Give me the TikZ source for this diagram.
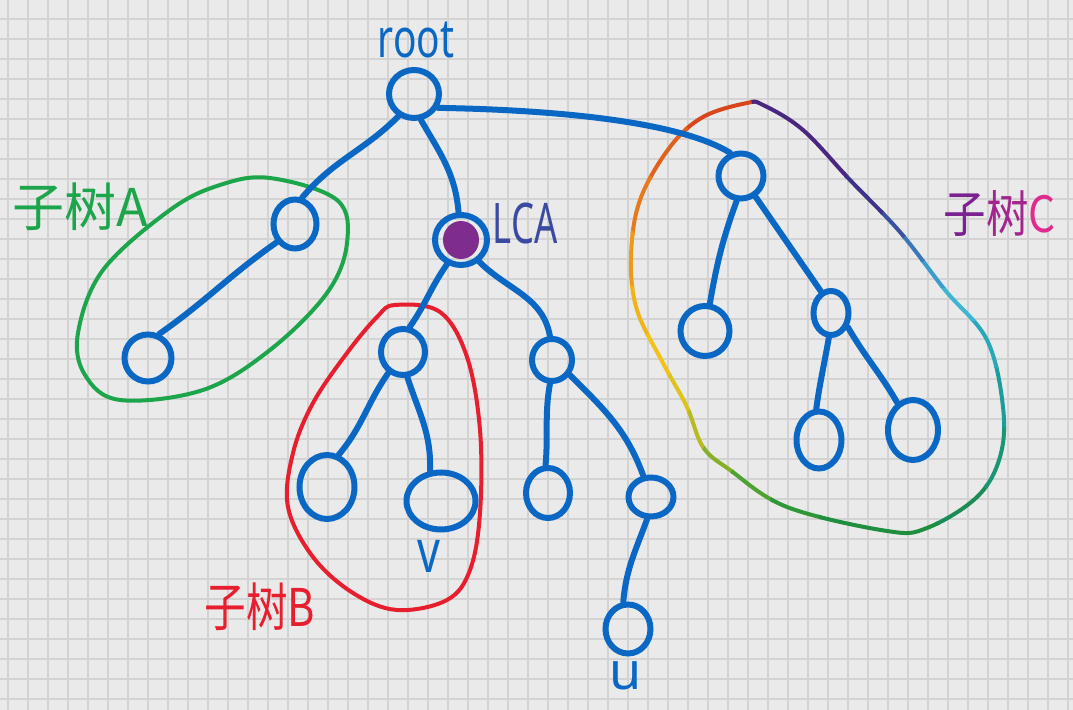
\documentclass[tikz,border=0pt]{standalone}
\usepackage{fontspec}
\setmainfont{Noto Sans}
\newfontfamily\cjk{Noto Sans CJK SC}
\usetikzlibrary{shapes.geometric}
\definecolor{bg}{HTML}{EAEAEA}
\definecolor{gridc}{HTML}{D3D3D3}
\definecolor{tb}{HTML}{0A68C4}
\definecolor{gA}{HTML}{1DA54B}
\definecolor{rB}{HTML}{E61E2D}
\definecolor{lcafill}{HTML}{7E2D8E}
\definecolor{lcatext}{HTML}{3A4AA0}
\definecolor{pC1}{HTML}{7B2290}
\definecolor{pC2}{HTML}{A3268F}
\definecolor{pC3}{HTML}{E02A8E}
\definecolor{rb1}{HTML}{D8461C}
\definecolor{rb2}{HTML}{E0601E}
\definecolor{rb3}{HTML}{E57A1E}
\definecolor{rb4}{HTML}{EC9A1C}
\definecolor{rb5}{HTML}{F0B41A}
\definecolor{rb6}{HTML}{F2C21A}
\definecolor{rb7}{HTML}{E0C21E}
\definecolor{rb8}{HTML}{B8BA22}
\definecolor{rb9}{HTML}{86B02A}
\definecolor{rb10}{HTML}{4EA232}
\definecolor{rb11}{HTML}{2E9838}
\definecolor{rb12}{HTML}{1F8E3E}
\definecolor{rb13}{HTML}{1C8C56}
\definecolor{rb14}{HTML}{1B9478}
\definecolor{rb15}{HTML}{1C9C9A}
\definecolor{rb16}{HTML}{28A8B8}
\definecolor{rb17}{HTML}{3CB6D2}
\definecolor{rb18}{HTML}{3A9CCB}
\definecolor{rb19}{HTML}{3A78BA}
\definecolor{rb20}{HTML}{3A50A0}
\definecolor{rb21}{HTML}{3C3288}
\definecolor{rb22}{HTML}{4A2680}
\tikzset{
  gridline/.style={draw=gridc, line width=1pt},
  tn/.style 2 args={ellipse, draw=tb, line width=3pt, inner sep=0pt,
    minimum width=#1pt, minimum height=#2pt},
  tedge/.style={draw=tb, line width=3pt, line cap=round},
  encl/.style={line width=2pt, line cap=round, line join=round},
  lbl/.style={inner sep=0pt, anchor=center}
}
\begin{document}
\begin{tikzpicture}[x=0.5pt,y=-0.5pt]
\useasboundingbox (0,0) rectangle (1073,710);
\fill[bg] (0,0) rectangle (1073,710);
\foreach \xx in {8,28,...,1068}{\draw[gridline] (\xx,0) -- (\xx,710);}
\foreach \yy in {19,39,...,699}{\draw[gridline] (0,\yy) -- (1073,\yy);}

% enclosures
\draw[encl, gA] plot[smooth cycle, tension=0.6] coordinates {(220,185) (270,178) (337,200) (347,243) (327,293) (270,350) (203,390) (120,400) (85,375) (78,333) (103,270) (170,210)};
\draw[encl, rB] plot[smooth cycle, tension=0.6] coordinates {(395,305) (440,312) (467,357) (480,430) (480,513) (470,570) (447,600) (397,610) (353,593) (313,557) (288,507) (293,453) (313,403) (347,353) (377,317)};
\foreach \a/\b/\c in {107/125/rb1,125/140/rb2,140/155/rb3,155/170/rb4,170/185/rb5,185/200/rb6,200/215/rb7,215/228/rb8,228/240/rb9,240/255/rb10,255/270/rb11,270/300/rb12,300/315/rb13,315/330/rb14,330/345/rb15,345/360/rb16,360/375/rb17,375/390/rb18,390/405/rb19,405/420/rb20,420/440/rb21,440/467/rb22}{
  \begin{scope}
    \clip (820,320) -- +(\a-0.4:500pt) arc[start angle=\a-0.4, end angle=\b+0.4, radius=500pt] -- cycle;
    \draw[encl, draw=\c] plot[smooth cycle, tension=0.6] coordinates {(747,103) (763,105) (803,130) (850,180) (900,232) (945,290) (987,340) (1003,407) (1000,457) (977,497) (927,528) (887,531) (787,507) (730,470) (703,447) (687,407) (663,363) (637,310) (631,257) (640,200) (670,147) (703,117)};
  \end{scope}
}

% tree nodes
\node[tn={25}{24}] (root) at (414,94) {};
\node[tn={21.5}{24.5}] (A1) at (295,224) {};
\node[tn={23.5}{23.5}] (A2) at (148,358) {};
\node[tn={26}{25}] (LCA) at (461,240) {};
\fill[lcafill] (461,240) ellipse[x radius=9pt, y radius=9.5pt];
\node[tn={22}{23}] (B1) at (403,352) {};
\node[tn={27.5}{32}] (B2) at (327,487) {};
\node[tn={34.5}{28.5}] (v) at (441,501) {};
\node[tn={20}{21}] (Cm) at (552,360) {};
\node[tn={22}{25}] (N1) at (548,493) {};
\node[tn={22.5}{19.5}] (N2) at (651,497) {};
\node[tn={22.5}{24.5}] (u) at (628,629) {};
\node[tn={22.5}{22.5}] (C1) at (741,176) {};
\node[tn={24.5}{25}] (C2) at (705,331) {};
\node[tn={17.5}{22}] (C3) at (831,313) {};
\node[tn={22.5}{28.5}] (C4) at (819,440) {};
\node[tn={25}{30}] (C5) at (913,430) {};

% edges
\draw[tedge] (root.-125) to[out=-135,in=50] (A1.75);
\draw[tedge] (root.-75) to[out=-60,in=95] (LCA.95);
\draw[tedge] (root.-30) .. controls (560,110) and (680,122) .. (C1.115);
\draw[tedge] (A1.-135) to[out=-145,in=35] (A2.65);
\draw[tedge] (LCA.-120) to[out=-125,in=55] (B1.75);
\draw[tedge] (LCA.-50) to[out=-45,in=100] (Cm.95);
\draw[tedge] (B1.-125) to[out=-125,in=50] (B2.70);
\draw[tedge] (B1.-80) to[out=-72,in=88] (v.110);
\draw[tedge] (Cm.-95) to[out=-100,in=85] (N1.95);
\draw[tedge] (Cm.-40) to[out=-45,in=110] (N2.110);
\draw[tedge] (N2.-100) to[out=-110,in=85] (u.100);
\draw[tedge] (C1.-100) to[out=-110,in=80] (C2.80);
\draw[tedge] (C1.-55) -- (C3.115);
\draw[tedge] (C3.-95) to[out=-100,in=82] (C4.95);
\draw[tedge] (C3.-40) to[out=-60,in=120] (C5.120);

% labels
\node[lbl, text=tb] (troot) at (416,40) {\scalebox{0.72}[1]{\fontsize{27}{27}\selectfont root}};
\node[lbl, text=lcatext] (tlca) at (525,224) {\scalebox{0.65}[1]{\fontsize{28}{28}\selectfont LCA}};
\node[lbl, text=tb] (tv) at (429,556) {\scalebox{0.75}[1]{\fontsize{30}{30}\selectfont v}};
\node[lbl, text=tb] (tu) at (626,676) {\fontsize{26}{26}\selectfont u};
\node[lbl, text=gA] (tA) at (80,207) {\cjk\fontsize{26}{26}\selectfont 子树A};
\node[lbl, text=rB] (tB) at (260,607) {\scalebox{0.8}[1]{\cjk\fontsize{26}{26}\selectfont 子树B}};
\node[lbl] (tC) at (1000,214) {\scalebox{0.85}[1]{\cjk\fontsize{25}{25}\selectfont\textcolor{pC1}{子}\textcolor{pC2}{树}\textcolor{pC3}{C}}};
\end{tikzpicture}
\end{document}
